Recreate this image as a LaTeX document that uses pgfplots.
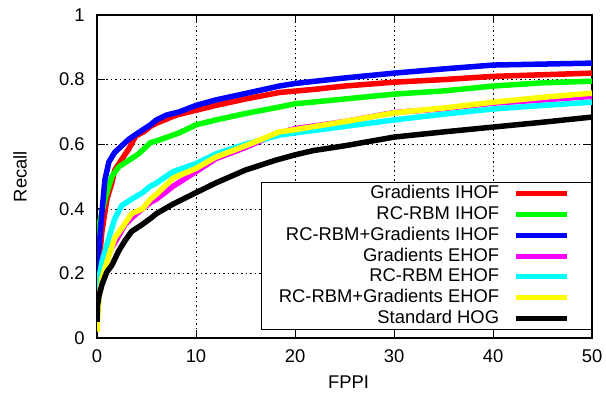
\documentclass[border=0pt]{standalone}
\usepackage{fontspec}
\setmainfont{Liberation Sans}
\usepackage{pgfplots}
\pgfplotsset{compat=1.18}
\definecolor{gred}{RGB}{255,0,0}
\definecolor{ggreen}{RGB}{0,255,0}
\definecolor{gblue}{RGB}{0,0,255}
\definecolor{gmag}{RGB}{255,0,255}
\definecolor{gcyan}{RGB}{0,255,255}
\definecolor{gyellow}{RGB}{255,255,0}
\begin{document}
\fontsize{18.4bp}{21bp}\selectfont
\begin{tikzpicture}
\begin{axis}[
  scale only axis, width=495bp, height=323bp,
  xmin=0, xmax=50, ymin=0, ymax=1,
  xtick={0,10,20,30,40,50}, ytick={0,0.2,0.4,0.6,0.8,1},
  /pgf/number format/assume math mode=true,
  tick label style={font=\fontsize{18.4bp}{21bp}\selectfont},
  yticklabel style={xshift=-6bp},
  xticklabel style={yshift=-5bp},
  xlabel={FPPI}, ylabel={Recall},
  label style={font=\fontsize{18.4bp}{21bp}\selectfont},
  xlabel style={at={(axis description cs:0.508,-0.136)}, anchor=center},
  ylabel style={at={(axis description cs:-0.1556,0.5)}, anchor=center, rotate=0},
  axis line style={line width=1.2bp},
  tick align=inside, major tick length=8bp,
  tick style={black, line width=1bp},
  grid=major,
  major grid style={black, line width=0.6bp, dash pattern=on 1.5bp off 3bp},
  every axis plot/.append style={line width=5.5bp, line join=round, line cap=butt},
  legend cell align=right, legend plot pos=right,
  legend image code/.code={\draw[#1,line width=5bp] (0bp,0bp) -- (51bp,0bp); \path (58bp,0bp);},
  legend style={at={(1,0.025)}, anchor=south east, draw=black, line width=1.2bp, fill=white,
    font=\fontsize{18.4bp}{21bp}\selectfont, inner xsep=15bp, inner ysep=0.5bp,
    nodes={inner sep=2bp, text height=13.4bp, text depth=3.4bp},
    column sep=12bp, row sep=0bp},
]
\addplot[gred] coordinates {(0,0.12)(0.1,0.2)(0.5,0.33)(1,0.43)(1.5,0.48)(1.8,0.52)(2.5,0.553)(3.2,0.585)(3.9,0.625)(4.8,0.64)(5.4,0.655)(6,0.665)(8,0.69)(10,0.705)(12,0.72)(15,0.74)(18.4,0.76)(22,0.77)(25,0.78)(30,0.792)(35,0.80)(40,0.81)(45,0.815)(50,0.82)};
\addlegendentry{Gradients IHOF}
\addplot[ggreen] coordinates {(0,0.2)(0.1,0.33)(0.2,0.35)(0.8,0.43)(1.5,0.50)(2.2,0.53)(3.2,0.55)(4.2,0.57)(5.4,0.605)(6,0.61)(8.3,0.635)(10,0.66)(12,0.675)(15,0.695)(18.4,0.715)(20,0.725)(25,0.74)(30,0.755)(35,0.765)(40,0.78)(45,0.79)(50,0.795)};
\addlegendentry{RC-RBM IHOF}
\addplot[gblue] coordinates {(0,0.15)(0.05,0.25)(0.2,0.28)(0.5,0.39)(0.8,0.49)(1.2,0.545)(1.8,0.575)(2.5,0.595)(3.2,0.615)(4.2,0.636)(5.4,0.66)(6,0.675)(7,0.69)(8.3,0.70)(10,0.72)(12,0.737)(15,0.757)(18.4,0.78)(20,0.788)(25,0.805)(30,0.82)(35,0.833)(40,0.845)(45,0.848)(50,0.851)};
\addlegendentry{RC-RBM+Gradients IHOF}
\addplot[gmag] coordinates {(0,0.13)(0.2,0.17)(0.8,0.24)(1.5,0.28)(2.2,0.317)(2.8,0.35)(3.8,0.38)(5.4,0.42)(6,0.43)(7.7,0.47)(10,0.515)(12,0.555)(15,0.59)(18.4,0.635)(20,0.648)(25,0.67)(30,0.698)(35,0.71)(40,0.727)(45,0.737)(50,0.748)};
\addlegendentry{Gradients EHOF}
\addplot[gcyan] coordinates {(0,0.15)(0.2,0.185)(0.5,0.236)(1.2,0.31)(1.8,0.37)(2.5,0.41)(3.5,0.43)(4.6,0.45)(5.4,0.47)(6,0.48)(7.7,0.515)(10,0.54)(12,0.57)(15,0.6)(18.4,0.628)(20,0.635)(25,0.655)(30,0.675)(35,0.693)(40,0.709)(45,0.72)(50,0.73)};
\addlegendentry{RC-RBM EHOF}
\addplot[gyellow] coordinates {(0,0.02)(0.05,0.06)(0.2,0.12)(0.5,0.185)(1.2,0.255)(1.8,0.31)(2.5,0.34)(3.5,0.385)(4.6,0.40)(5.4,0.43)(6,0.445)(7.7,0.495)(10,0.525)(12,0.56)(15,0.595)(18.4,0.638)(20,0.645)(25,0.67)(30,0.697)(35,0.712)(40,0.73)(45,0.745)(50,0.758)};
\addlegendentry{RC-RBM+Gradients EHOF}
\addplot[black] coordinates {(0,0.05)(0.05,0.1)(0.2,0.13)(0.5,0.165)(1,0.205)(1.5,0.225)(2.2,0.27)(2.8,0.30)(3.5,0.33)(4.5,0.35)(5.4,0.37)(6,0.385)(7.7,0.415)(10,0.45)(12,0.48)(15,0.52)(18,0.55)(20,0.567)(21.8,0.58)(25,0.595)(30,0.622)(35,0.638)(40,0.653)(45,0.668)(50,0.684)};
\addlegendentry{Standard HOG}
\coordinate (ll) at (rel axis cs:0,0);
\coordinate (ur) at (rel axis cs:1,1);
\end{axis}
\pgfresetboundingbox
\path ([shift={(-97bp,-60bp)}]ll) rectangle ([shift={(14bp,15bp)}]ur);
\end{tikzpicture}
\end{document}
